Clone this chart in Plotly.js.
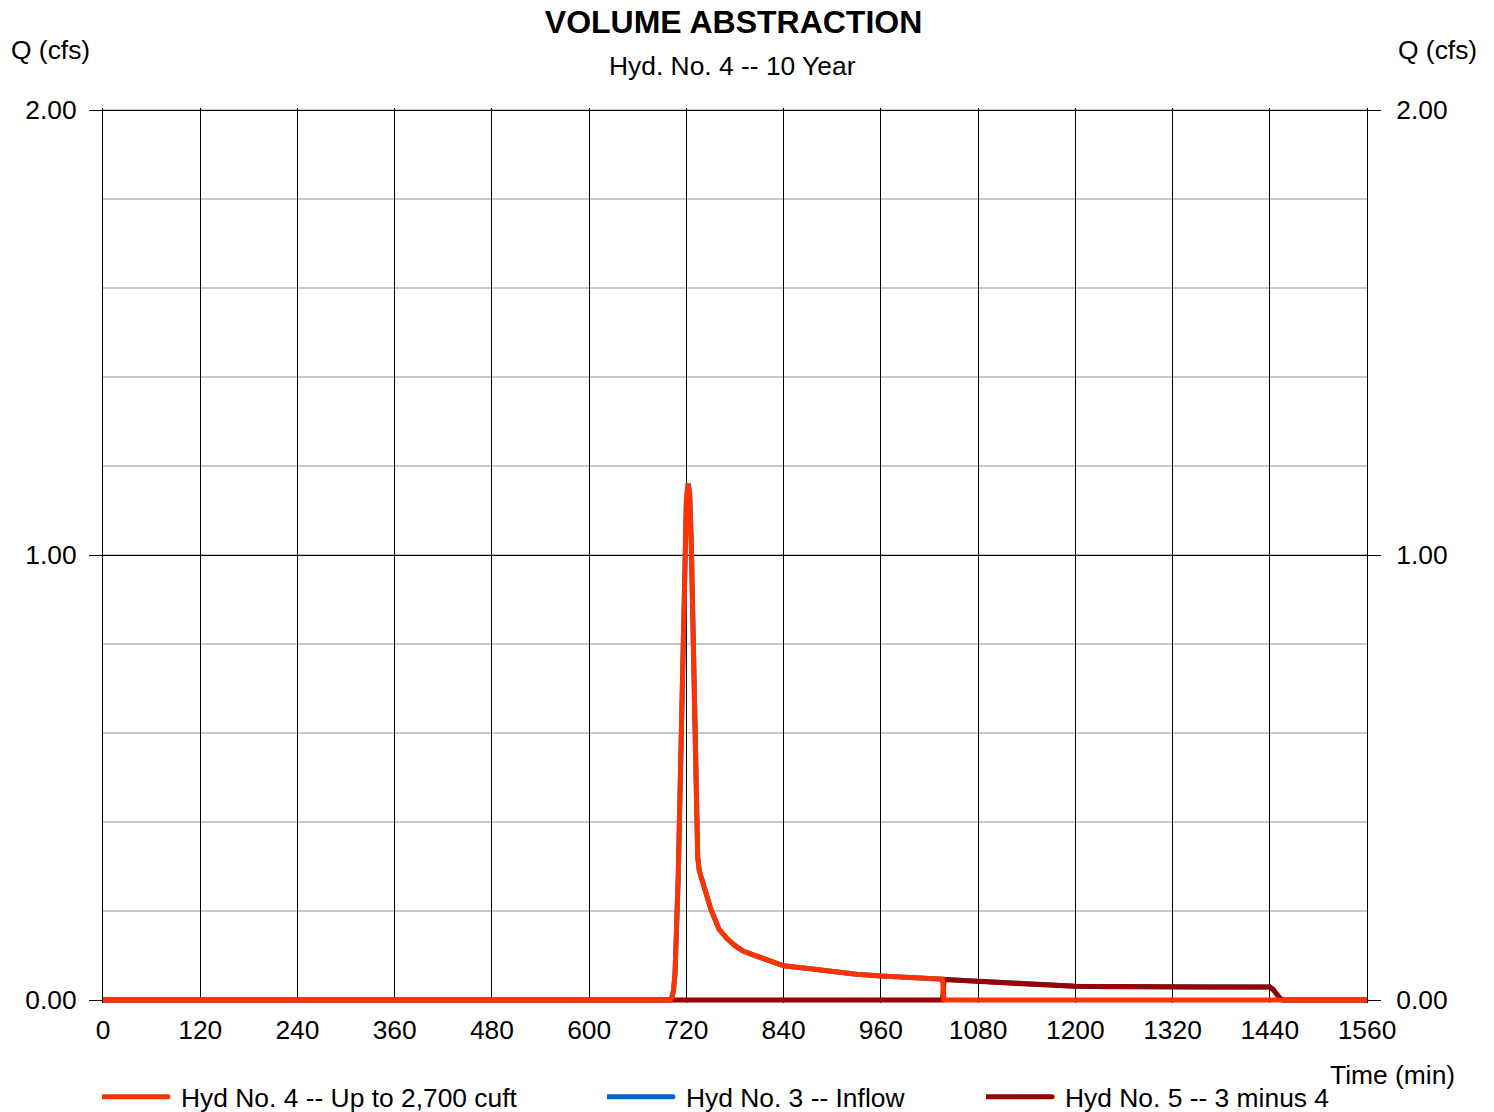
<!DOCTYPE html>
<html>
<head>
<meta charset="utf-8">
<script src="https://cdn.plot.ly/plotly-3.0.1.min.js"></script>
<style>html,body{margin:0;padding:0;background:#fff;}#chart{width:1494px;height:1112px;}</style>
</head>
<body>
<div id="chart"></div>
<script>
// Time (min)
const timeMin = [0, 700, 702, 704, 706, 708, 710, 712, 714, 716, 718, 720, 722, 724, 726, 728, 730, 732, 734, 736, 740, 745, 750, 760, 770, 780, 790, 800, 820, 840, 870, 900, 930, 960, 1000, 1036, 1038, 1080, 1120, 1160, 1200, 1240, 1280, 1320, 1360, 1400, 1436, 1440, 1444, 1448, 1452, 1456, 1560];
// Hyd No. 4 -- Up to 2,700 cuft (cfs)
const hyd4 = [0, 0, 0.005, 0.02, 0.06, 0.15, 0.28, 0.45, 0.63, 0.85, 1.02, 1.12, 1.16, 1.14, 1.03, 0.84, 0.62, 0.42, 0.32, 0.29, 0.265, 0.24, 0.205, 0.16, 0.138, 0.122, 0.11, 0.103, 0.09, 0.077, 0.071, 0.064, 0.058, 0.054, 0.05, 0.047, 0, 0, 0, 0, 0, 0, 0, 0, 0, 0, 0, 0, 0, 0, 0, 0, 0];
// Hyd No. 3 -- Inflow (cfs)
const hyd3 = [0, 0, 0.005, 0.02, 0.06, 0.15, 0.28, 0.45, 0.63, 0.85, 1.02, 1.12, 1.16, 1.14, 1.03, 0.84, 0.62, 0.42, 0.32, 0.29, 0.265, 0.24, 0.205, 0.16, 0.138, 0.122, 0.11, 0.103, 0.09, 0.077, 0.071, 0.064, 0.058, 0.054, 0.05, 0.047, 0.046, 0.041, 0.037, 0.034, 0.031, 0.030, 0.030, 0.030, 0.029, 0.029, 0.029, 0.029, 0.024, 0.014, 0.005, 0, 0];
// Hyd No. 5 -- 3 minus 4 (cfs)
const hyd5 = [0, 0, 0, 0, 0, 0, 0, 0, 0, 0, 0, 0, 0, 0, 0, 0, 0, 0, 0, 0, 0, 0, 0, 0, 0, 0, 0, 0, 0, 0, 0, 0, 0, 0, 0, 0, 0.046, 0.041, 0.037, 0.034, 0.031, 0.030, 0.030, 0.030, 0.029, 0.029, 0.029, 0.029, 0.024, 0.014, 0.005, 0, 0];

const xTicks = [0, 120, 240, 360, 480, 600, 720, 840, 960, 1080, 1200, 1320, 1440, 1560];
const yTicks = [0, 1, 2];

const FONT = 'Liberation Sans, Arial, Helvetica, sans-serif';
const FS = 26.4;
// small headroom below 0 (so the thick zero-level lines are not half clipped)
// and above 2 (so the 2.00 gridline is drawn as the top border)
const Y_RANGE = [-0.006742, 2.004494];

const traces = [
  {x: timeMin, y: hyd3, type: 'scatter', mode: 'lines', name: 'Hyd No. 3 -- Inflow',
   line: {color: '#0066CC', width: 5}, legend: 'legend2', hoverinfo: 'x+y'},
  {x: timeMin, y: hyd5, type: 'scatter', mode: 'lines', name: 'Hyd No. 5 -- 3 minus 4',
   line: {color: '#990000', width: 5}, legend: 'legend3', hoverinfo: 'x+y'},
  {x: timeMin, y: hyd4, type: 'scatter', mode: 'lines', name: 'Hyd No. 4 -- Up to 2,700 cuft',
   line: {color: '#FF3300', width: 5}, legend: 'legend', hoverinfo: 'x+y'},
  {x: [], y: [], type: 'scatter', mode: 'lines', yaxis: 'y2', showlegend: false, hoverinfo: 'skip'}
];

const legendBase = {
  orientation: 'h', xanchor: 'left', yanchor: 'middle', y: -0.10503,
  font: {family: FONT, size: FS, color: '#000'}, bgcolor: 'rgba(0,0,0,0)',
  borderwidth: 0, itemwidth: 69
};

const layout = {
  width: 1494, height: 1112,
  margin: {l: 103, r: 127, t: 108, b: 109, autoexpand: false},
  paper_bgcolor: '#fff', plot_bgcolor: '#fff',
  font: {family: FONT, size: FS, color: '#000'},
  title: {text: '<b>VOLUME ABSTRACTION</b>', font: {family: FONT, size: 32, color: '#000'},
          xref: 'container', x: 0.491, xanchor: 'center', yref: 'container', y: 0.980, yanchor: 'middle'},
  xaxis: {
    range: [0, 1560], tickvals: xTicks, ticktext: xTicks.map(String), ticks: '',
    ticklabelstandoff: 9,
    showgrid: true, gridcolor: '#000', gridwidth: 1, zeroline: false,
    showline: false,
    tickfont: {family: FONT, size: FS, color: '#000'}
  },
  yaxis: {
    range: Y_RANGE, tickvals: yTicks, tickformat: '.2f', ticks: 'outside', ticklen: 13,
    tickcolor: '#000', tickwidth: 1, ticklabelstandoff: 7,
    showgrid: true, gridcolor: '#000', gridwidth: 1, zeroline: false,
    minor: {dtick: 0.2, tick0: 0, showgrid: true, gridcolor: '#c8c8c8', gridwidth: 2, ticks: ''},
    showline: true, mirror: true, linecolor: '#000', linewidth: 1,
    tickfont: {family: FONT, size: FS, color: '#000'}
  },
  yaxis2: {
    overlaying: 'y', side: 'right', anchor: 'x',
    range: Y_RANGE, tickvals: yTicks, tickformat: '.2f', ticks: 'outside', ticklen: 13,
    tickcolor: '#000', tickwidth: 1, ticklabelstandoff: 10,
    showgrid: false, zeroline: false, showline: false,
    tickfont: {family: FONT, size: FS, color: '#000'}
  },
  legend: Object.assign({}, legendBase, {x: -0.0008}),
  legend2: Object.assign({}, legendBase, {x: 0.3987}),
  legend3: Object.assign({}, legendBase, {x: 0.6986}),
  showlegend: true,
  annotations: [
    {text: 'Hyd. No. 4 -- 10 Year', xref: 'paper', yref: 'paper', x: 0.4984, y: 1.04693,
     xanchor: 'center', yanchor: 'middle', showarrow: false, font: {family: FONT, size: FS, color: '#000'}},
    {text: 'Q (cfs)', xref: 'paper', yref: 'paper', x: -0.0419, y: 1.0648,
     xanchor: 'center', yanchor: 'middle', showarrow: false, font: {family: FONT, size: FS, color: '#000'}},
    {text: 'Q (cfs)', xref: 'paper', yref: 'paper', x: 1.0554, y: 1.0648,
     xanchor: 'center', yanchor: 'middle', showarrow: false, font: {family: FONT, size: FS, color: '#000'}},
    {text: 'Time (min)', xref: 'paper', yref: 'paper', x: 1.0198, y: -0.08045,
     xanchor: 'center', yanchor: 'middle', showarrow: false, font: {family: FONT, size: FS, color: '#000'}}
  ]
};

Plotly.newPlot('chart', traces, layout, {displayModeBar: false, staticPlot: true}).then(function (gd) {
  // lengthen legend line samples (all three legends) to match the original legend style
  gd.querySelectorAll('g.infolayer path.js-line').forEach(function (p) {
    p.setAttribute('d', 'M0,0h66');
    p.style.strokeLinecap = 'round';
  });
});
</script>
</body>
</html>
